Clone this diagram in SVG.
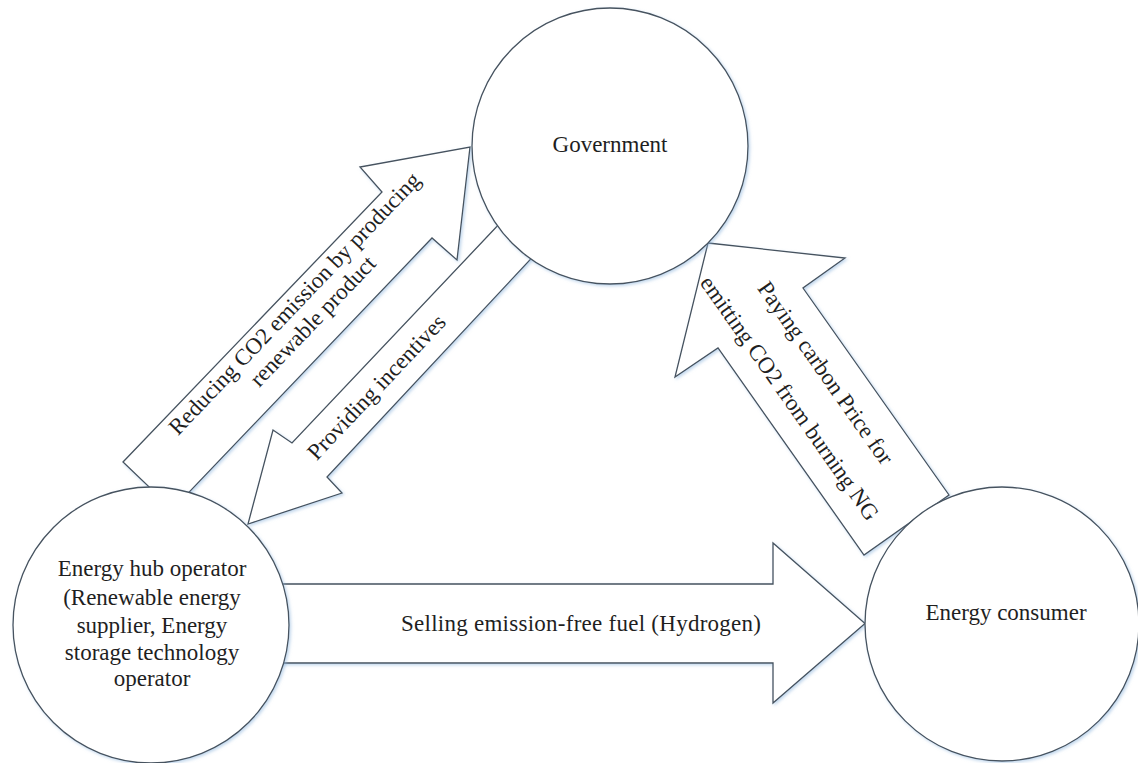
<svg xmlns="http://www.w3.org/2000/svg" width="1138" height="763" viewBox="0 0 1138 763">
<defs>
<style>
.shape{fill:#ffffff;stroke:#46525e;stroke-width:1.3;stroke-linejoin:miter;filter:url(#sh)}
.lbl{font-family:"Liberation Serif","Times New Roman",serif;font-size:23px;fill:#1f1f1f}
.mid{text-anchor:middle}
</style>
<filter id="sh" x="-10%" y="-10%" width="120%" height="120%">
<feDropShadow dx="1.5" dy="1.5" stdDeviation="1.4" flood-color="#8fb6dd" flood-opacity="0.55"/>
</filter>
</defs>
<rect width="1138" height="763" fill="#ffffff"/>
<g id="connectors">
<g id="arrow-reducing">
<polygon class="shape" points="123,462 382,192 360,167 470,147 457,260 432,238 172.6,509.4"/>
<g transform="translate(309,317.5) rotate(-46.3)">
<text class="lbl mid" x="0" y="-12.7">Reducing CO2 emission by producing</text>
<text class="lbl mid" x="0" y="12.7">renewable product</text>
</g>
</g>
<g id="arrow-incentives">
<polygon class="shape" points="520,202 292,443 273,430 248,524 342,493 327,477 554.2,233.9"/>
<g transform="translate(376.8,387.4) rotate(-46.6)">
<text class="lbl mid" x="0" y="7">Providing incentives</text>
</g>
</g>
<g id="arrow-carbon">
<polygon class="shape" points="708,243 845,258 803,288 949,495 864,555 718,348 675,377"/>
<g transform="translate(807.6,385.6) rotate(54.9)">
<text class="lbl mid" x="0" y="-14.5">Paying carbon Price for</text>
<text class="lbl mid" x="0" y="29.5">emitting CO2 from burning NG</text>
</g>
</g>
<g id="arrow-selling">
<polygon class="shape" points="200,584 773,584 773,543 865,623.5 773,703 773,663 200,663"/>
<text class="lbl" x="401" y="631" textLength="360" lengthAdjust="spacing">Selling emission-free fuel (Hydrogen)</text>
</g>
</g>
<g id="government">
<circle class="shape" cx="610" cy="146" r="138"/>
<text class="lbl mid" x="610" y="152">Government</text>
</g>
<g id="energy-hub-operator">
<circle class="shape" cx="151" cy="625" r="138"/>
<text class="lbl mid" x="152" y="576">Energy hub operator</text>
<text class="lbl mid" x="152" y="604.5">(Renewable energy</text>
<text class="lbl mid" x="152" y="632.5">supplier, Energy</text>
<text class="lbl mid" x="152" y="659.5">storage technology</text>
<text class="lbl mid" x="152" y="686">operator</text>
</g>
<g id="energy-consumer">
<circle class="shape" cx="1002" cy="624" r="137"/>
<text class="lbl mid" x="1006" y="620">Energy consumer</text>
</g>
</svg>
